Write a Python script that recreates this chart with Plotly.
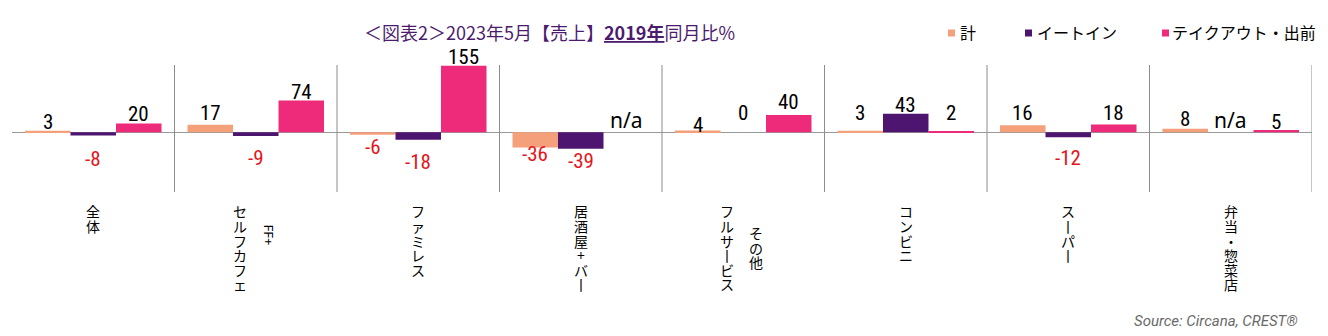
import plotly.graph_objects as go

# ---------------- data ----------------
categories = ["全体", "FF+セルフカフェ", "ファミレス", "居酒屋+バー",
              "その他フルサービス", "コンビニ", "スーパー", "弁当・惣菜店"]
# vertical label columns (first line is the rightmost column)
category_label_lines = [["全体"], ["FF+", "セルフカフェ"], ["ファミレス"], ["居酒屋+バー"],
                        ["その他", "フルサービス"], ["コンビニ"], ["スーパー"], ["弁当・惣菜店"]]
series_names = ["計", "イートイン", "テイクアウト・出前"]
total = [3, 17, -6, -36, 4, 3, 16, 8]
eat_in = [-8, -9, -18, -39, 0, 43, -12, None]
takeout = [20, 74, 155, None, 40, 2, 18, 5]
title_text = "＜図表2＞2023年5月【売上】<b><u>2019年</u></b>同月比%"
source_text = "Source: Circana, CREST®"

# ---------------- style ----------------
colors = ["#F4A07A", "#4E1570", "#EE2A7B"]
title_color = "#4B1C6E"
neg_color = "#E3161B"
num_font = "Roboto Condensed, Liberation Sans Narrow, DejaVu Sans Condensed, Roboto, sans-serif"
jp_font = "Noto Sans CJK JP, Noto Sans CJK SC, sans-serif"
# pixel nudges for value labels (positive = up), per series, per category
label_nudge = [
    [9, 12, -12, -6, 5, 18, 12, 10],
    [-23, -22, -22, -12, 19, 9, -21, 12],
    [10, 8, 9, 12, 13, 18, 11, 8],
]

W, H = 1328, 336
L, R, T, B = 12, 16, 65, 144
PW, PH = W - L - R, H - T - B


def px_x(px):
    return (px - L) / PW


def px_y(py):
    return 1 - (py - T) / PH


fig = go.Figure()
series = [total, eat_in, takeout]
n = len(categories)
for name, vals, c in zip(series_names, series, colors):
    fig.add_trace(go.Bar(x=list(range(n)), y=vals, name=name, marker_color=c,
                         marker_line_width=0, showlegend=False, hoverinfo="skip"))

annotations = []
bar_w = 0.28
for j, vals in enumerate(series):
    off = (j - 1) * bar_w
    for i, v in enumerate(vals):
        if v is None:
            annotations.append(dict(x=i + off, y=0, xref="x", yref="y", text="n/a",
                                    showarrow=False, yanchor="middle", yshift=label_nudge[j][i],
                                    font=dict(family="Noto Sans, sans-serif", size=21, color="#000")))
        else:
            annotations.append(dict(x=i + off, y=v, xref="x", yref="y", text=str(v),
                                    showarrow=False, yanchor="middle", yshift=label_nudge[j][i],
                                    font=dict(family=num_font, size=21,
                                              color=neg_color if v < 0 else "#000")))

# vertical category labels (stacked characters)
pitch = 14.6
top_px = 204
col_offsets = {1: [0], 2: [13, -16]}
vert_map = {"ー": "丨"}
for i, lines in enumerate(category_label_lines):
    block_len = max(len(s) for s in lines)
    block_center = top_px + block_len * pitch / 2
    for k, line in enumerate(lines):
        xs = col_offsets[len(lines)][k]
        if line.isascii():
            annotations.append(dict(x=i, xref="x", xshift=xs, y=px_y(block_center), yref="paper",
                                    text=line, textangle=90, showarrow=False,
                                    font=dict(family="Noto Sans, sans-serif", size=13, color="#000")))
            continue
        start = block_center - len(line) * pitch / 2
        for m, ch in enumerate(line):
            cy = start + (m + 0.5) * pitch
            annotations.append(dict(x=i, xref="x", xshift=xs, y=px_y(cy), yref="paper",
                                    text=vert_map.get(ch, ch), showarrow=False,
                                    yanchor="middle",
                                    font=dict(family=jp_font, size=14, color="#000")))

# title
annotations.append(dict(x=px_x(549), y=px_y(31.5), xref="paper", yref="paper", text=title_text,
                        showarrow=False, xanchor="center", yanchor="middle",
                        font=dict(family=jp_font, size=18, color=title_color)))

# legend (manual)
legend_text_x = [958, 1035, 1170]
legend_sq_x = [948, 1025, 1162]
shapes = []
for name, c, tx, sx in zip(series_names, colors, legend_text_x, legend_sq_x):
    annotations.append(dict(x=px_x(tx), y=px_y(32), xref="paper", yref="paper", text=name,
                            showarrow=False, xanchor="left", yanchor="middle",
                            font=dict(family=jp_font, size=16, color="#000")))
    shapes.append(dict(type="rect", xref="paper", yref="paper", x0=px_x(sx), x1=px_x(sx + 7),
                       y0=px_y(36.5), y1=px_y(29.5), fillcolor=c, line=dict(width=0)))

# source
annotations.append(dict(x=px_x(1300), y=px_y(321), xref="paper", yref="paper", text=source_text,
                        showarrow=False, xanchor="right", yanchor="middle",
                        font=dict(family="Roboto, sans-serif", size=15, color="#6A6A6A",
                                  style="italic")))

# category dividers
for i in range(n):
    shapes.append(dict(type="line", xref="x", yref="paper", x0=i + 0.5, x1=i + 0.5, y0=0, y1=1,
                       line=dict(color="#8C8C8C", width=1)))

fig.update_layout(
    width=W, height=H,
    margin=dict(l=L, r=R, t=T, b=B, pad=0),
    paper_bgcolor="white", plot_bgcolor="white",
    barmode="group", bargap=0.16, bargroupgap=0,
    xaxis=dict(range=[-0.5, n - 0.5], showticklabels=False, showgrid=False, zeroline=False,
               ticks="", fixedrange=True),
    yaxis=dict(range=[-140, 157], showticklabels=False, showgrid=False, zeroline=True,
               zerolinecolor="#999999", zerolinewidth=1, ticks="", fixedrange=True),
    annotations=annotations, shapes=shapes,
)

fig.write_html("out.html")
